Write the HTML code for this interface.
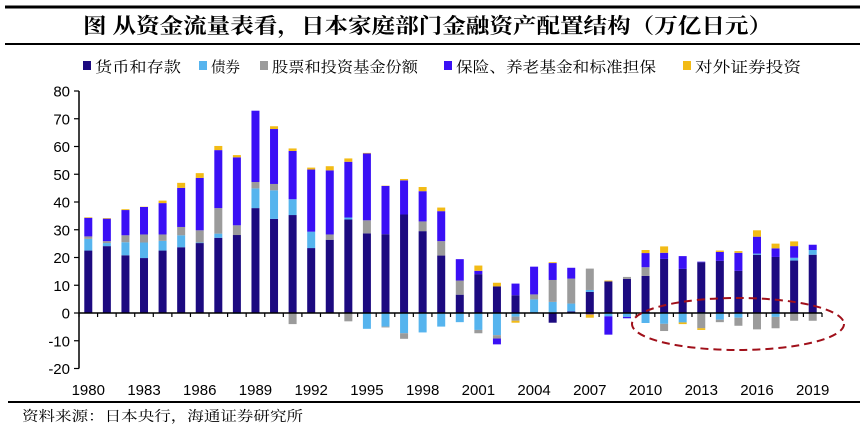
<!DOCTYPE html>
<html><head><meta charset="utf-8">
<style>
html,body{margin:0;padding:0;background:#fff;}
body{width:868px;height:435px;overflow:hidden;font-family:"Liberation Sans","Noto Sans CJK SC",sans-serif;}
</style></head>
<body>
<svg id="chart" width="868" height="435" xmlns="http://www.w3.org/2000/svg">
<line x1="5" y1="7" x2="860" y2="7" stroke="#000" stroke-width="3"/>
<text x="83" y="33" textLength="689" lengthAdjust="spacingAndGlyphs" font-family="'Noto Serif CJK SC','Noto Sans CJK SC',serif" font-weight="bold" font-size="21">图 从资金流量表看，日本家庭部门金融资产配置结构（万亿日元）</text>
<line x1="5" y1="44" x2="860" y2="44" stroke="#000" stroke-width="2"/>
<g id="legend" font-family="'Noto Serif CJK SC','Noto Sans CJK SC',serif" font-size="15"></g>
<g id="plot"></g>
<line x1="8" y1="402" x2="860" y2="402" stroke="#000" stroke-width="2"/>
<text x="22" y="421" textLength="281" lengthAdjust="spacingAndGlyphs" font-family="'Noto Serif CJK SC','Noto Sans CJK SC',serif" font-size="14">资料来源：日本央行，海通证券研究所</text>
</svg>
<script>
const years = [];
for (let y = 1980; y <= 2019; y++) years.push(y);
const seriesNames = ["货币和存款","债券","股票和投资基金份额","保险、养老基金和标准担保","对外证券投资"];
const deposits = [22.5,24.1,20.8,19.8,22.5,23.7,25.2,27.1,28.1,37.8,33.9,35.3,23.4,26.4,33.7,28.7,28.4,35.5,29.5,20.7,6.6,14,9.6,6.4,0,-3.5,0.6,7.6,11.4,12.3,13.4,19.5,15.9,18.3,18.8,15.2,21,20.2,18.9,21];
const bonds = [4.2,1.1,4.7,5.6,3.5,4.3,0.2,1.5,-0.3,7.1,10.3,5.7,5.9,0,0.7,-5.7,-4.9,-7.3,-7,-4.9,-3.3,-6.1,-8,-1.3,4.9,4,2.8,0.7,-1.2,-1.4,-3.6,-3.9,-3.4,-0.3,-2.4,-1.7,0.4,-1.4,1,1.7];
const stocks = [0.9,0.7,2.5,2.9,2.3,3,4.4,9.2,3.5,2.3,2.3,-4,0,1.9,-3,4.7,-0.3,-2,3.5,5.2,5.1,-1.2,-1.2,-1.5,1.8,7.9,9,7.7,0,0.7,3.1,-2.6,0,-5.2,-0.9,-2.9,-5.9,-4.1,-2.8,-2.8];
const insurance = [6.7,8.1,9.1,9.9,11.3,14.1,18.9,20.9,24.5,25.7,19.8,17.4,22.4,23.1,20.1,24.1,17.4,12.3,10.9,10.8,7.7,1.2,-2.1,4.2,10,6.1,3.9,-0.5,-6.6,-0.5,5.1,2.2,4.6,0.2,3.2,6.5,6.1,3.1,4.2,1.9];
const foreign = [0.2,0.2,0.3,0.1,0.9,1.8,1.7,1.5,0.8,0,1,0.9,0.7,1.5,1.2,0.2,0.1,0.5,1.5,1.3,0,1.9,1.3,-0.7,0,0.3,0,-1.2,0.3,0,1.1,2.3,-0.6,-0.6,0.5,0.6,2.3,1.7,1.7,0];
const yTicks = [-20,-10,0,10,20,30,40,50,60,70,80];
const xTickLabels = [1980,1983,1986,1989,1992,1995,1998,2001,2004,2007,2010,2013,2016,2019];
const colors = ["#1c0a80","#56b4ee","#9b9b9b","#3a10f5","#f2bb16"];
const names = ["deposits","bonds","stocks","insurance","foreign"];
const series = [deposits,bonds,stocks,insurance,foreign];

const NS = "http://www.w3.org/2000/svg";
const X0 = 79, X1 = 822, Y0 = 313, PX = 2.775;
const slot = (X1 - X0) / years.length;
const xC = i => X0 + slot * (i + 0.5);
const yS = v => Y0 - v * PX;
function mk(tag, attrs, parent) {
  const e = document.createElementNS(NS, tag);
  for (const k in attrs) e.setAttribute(k, attrs[k]);
  parent.appendChild(e);
  return e;
}
const plot = document.getElementById("plot");
years.forEach((yr, i) => {
  let pos = 0, neg = 0;
  series.forEach((s, k) => {
    const v = s[i];
    if (!v) return;
    let top, h;
    if (v > 0) { top = yS(pos + v); h = v * PX; pos += v; }
    else { top = yS(neg); h = -v * PX; neg += v; }
    const r = mk("rect", {x: xC(i) - 4, y: top, width: 8, height: h, fill: colors[k]}, plot);
    
    
  });
});
const ya = mk("line", {x1: X0, y1: yS(80), x2: X0, y2: yS(-20), stroke: "#000", "stroke-width": 1.5}, plot);


yTicks.forEach(t => {
  mk("line", {x1: X0 - 5, y1: yS(t), x2: X0, y2: yS(t), stroke: "#000", "stroke-width": 1.2}, plot);
  const tx = mk("text", {x: X0 - 9, y: yS(t) + 5.5, "text-anchor": "end", "font-size": 15}, plot);
  tx.textContent = t;
  
  
});
const xa = mk("line", {x1: X0, y1: Y0, x2: X1, y2: Y0, stroke: "#000", "stroke-width": 1.5}, plot);


for (let i = 0; i <= years.length; i++) {
  mk("line", {x1: X0 + slot * i, y1: Y0, x2: X0 + slot * i, y2: Y0 + 4, stroke: "#000", "stroke-width": 1.2}, plot);
}
xTickLabels.forEach(l => {
  const i = years.indexOf(l);
  const tx = mk("text", {x: xC(i), y: 395, "text-anchor": "middle", "font-size": 15}, plot);
  tx.textContent = l;
  
  
});
const el = mk("ellipse", {cx: 738, cy: 324, rx: 106, ry: 26, fill: "none", stroke: "#a0101a", "stroke-width": 2, "stroke-dasharray": "8 5"}, plot);


const lg = document.getElementById("legend");
const lx = [83, 199, 260, 444, 683];
const lw = [86, 29, 146, 200, 106];
seriesNames.forEach((n, k) => {
  const g = mk("g", {}, lg);
  
  
  mk("rect", {x: lx[k], y: 61, width: 8, height: 9, fill: colors[k]}, g);
  const t = mk("text", {x: lx[k] + 12, y: 72, textLength: lw[k], lengthAdjust: "spacingAndGlyphs"}, g);
  t.textContent = n;
});
</script>
</body></html>
